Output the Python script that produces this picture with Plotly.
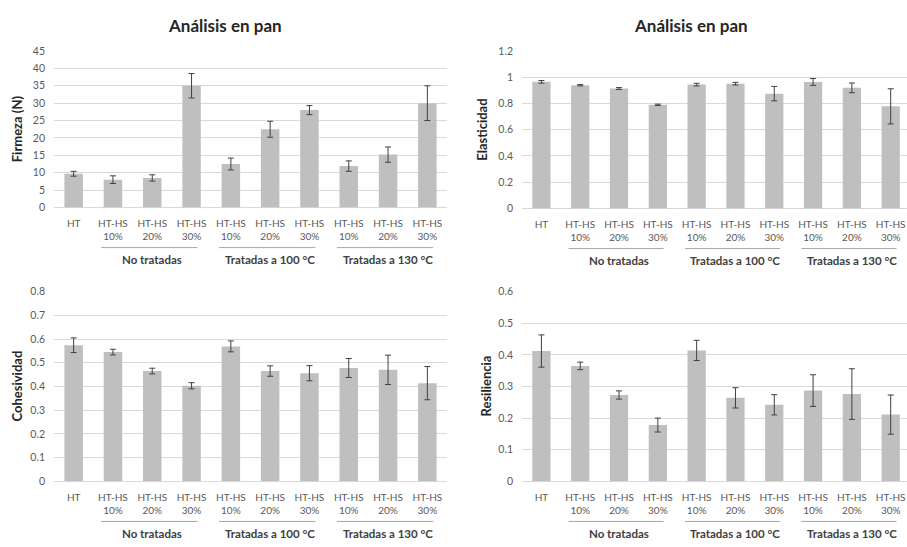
import plotly.graph_objects as go

# ---------------- data ----------------
cat_labels = ["HT", "HT-HS<br>10%", "HT-HS<br>20%", "HT-HS<br>30%",
              "HT-HS<br>10%", "HT-HS<br>20%", "HT-HS<br>30%",
              "HT-HS<br>10%", "HT-HS<br>20%", "HT-HS<br>30%"]
group_names = ["No tratadas", "Tratadas a 100 °C", "Tratadas a 130 °C"]
group_start = [1, 4, 7]
group_end = [3, 6, 9]

firmeza = [9.7, 8.0, 8.5, 35.0, 12.5, 22.5, 28.0, 11.9, 15.2, 30.0]
firmeza_err = [0.7, 1.1, 0.9, 3.5, 1.7, 2.3, 1.3, 1.5, 2.2, 5.0]

elasticidad = [0.965, 0.939, 0.914, 0.79, 0.944, 0.951, 0.875, 0.964, 0.919, 0.778]
elasticidad_err = [0.01, 0.005, 0.007, 0.005, 0.01, 0.01, 0.055, 0.026, 0.037, 0.134]

cohesividad = [0.574, 0.545, 0.465, 0.403, 0.569, 0.465, 0.456, 0.478, 0.47, 0.414]
cohesividad_err = [0.031, 0.012, 0.012, 0.013, 0.023, 0.022, 0.032, 0.04, 0.062, 0.07]

resiliencia = [0.412, 0.365, 0.273, 0.178, 0.414, 0.264, 0.242, 0.287, 0.276, 0.211]
resiliencia_err = [0.051, 0.012, 0.013, 0.022, 0.032, 0.032, 0.032, 0.05, 0.08, 0.062]

titles = ["Análisis en pan", "Análisis en pan", "", ""]
y_titles = ["Firmeza (N)", "Elasticidad", "Cohesividad", "Resiliencia"]
y_max = [45, 1.2, 0.8, 0.6]
y_dtick = [5, 0.2, 0.1, 0.1]

# ---------------- layout geometry (pixels) ----------------
W, H = 907, 547
FONT = "Lato, 'Open Sans', sans-serif"
panels = [
    dict(x0=54, x1=447, ytop=46, ybot=206, xr=[-0.5, 9.5], title_x=225, title_y=20, ytitle_x=17),
    dict(x0=522, x1=907, ytop=46, ybot=207, xr=[-0.5, 9.42], title_x=691, title_y=20, ytitle_x=482),
    dict(x0=54, x1=447, ytop=292, ybot=486, xr=[-0.5, 9.5], title_x=None, title_y=None, ytitle_x=17),
    dict(x0=522, x1=907, ytop=292, ybot=486, xr=[-0.5, 9.42], title_x=None, title_y=None, ytitle_x=486),
]
series = [(firmeza, firmeza_err), (elasticidad, elasticidad_err),
          (cohesividad, cohesividad_err), (resiliencia, resiliencia_err)]

def px_x(p):
    return p / W

def px_y(p):
    return 1 - p / H

fig = go.Figure()
annotations = []
shapes = []
layout = {}

xs = list(range(len(cat_labels)))

for i, (p, (vals, errs)) in enumerate(zip(panels, series)):
    n = "" if i == 0 else str(i + 1)
    xa, ya = "x" + n, "y" + n
    fig.add_trace(go.Bar(
        x=xs, y=vals, xaxis=xa, yaxis=ya,
        marker=dict(color="#bfbfbf", line=dict(width=0)),
        error_y=dict(type="data", array=errs, visible=True,
                     color="#404040", thickness=1, width=3),
        width=0.47, showlegend=False, hoverinfo="skip",
    ))
    layout["xaxis" + n] = dict(
        domain=[px_x(p["x0"]), min(1.0, px_x(p["x1"]))], anchor=ya, range=p["xr"],
        tickvals=xs, ticktext=cat_labels, showgrid=False, zeroline=False,
        showline=False, ticks="", ticklabelstandoff=9,
        tickfont=dict(family=FONT, size=10, color="#595959"),
    )
    layout["yaxis" + n] = dict(
        domain=[px_y(p["ybot"]), px_y(p["ytop"])], anchor=xa,
        range=[0, y_max[i]], dtick=y_dtick[i], showgrid=True,
        gridcolor="#d9d9d9", gridwidth=1, zeroline=True, zerolinecolor="#d9d9d9",
        zerolinewidth=1, showline=False, ticks="", ticklabelstandoff=8,
        tickfont=dict(family=FONT, size=10.5, color="#595959"),
    )
    if titles[i]:
        annotations.append(dict(
            text="<b>" + titles[i] + "</b>", x=px_x(p["title_x"]), y=px_y(p["title_y"]),
            xref="paper", yref="paper", showarrow=False, xanchor="center", yanchor="middle",
            font=dict(family=FONT, size=17, color="#262626"),
        ))
    annotations.append(dict(
        text="<b>" + y_titles[i] + "</b>", x=px_x(p["ytitle_x"]),
        y=px_y((p["ytop"] + p["ybot"]) / 2), xref="paper", yref="paper",
        showarrow=False, textangle=-90, xanchor="center", yanchor="middle",
        font=dict(family=FONT, size=13, color="#262626"),
    ))
    line_y = px_y(p["ybot"] + 41)
    lab_y = px_y(p["ybot"] + 53)
    for g, s, e in zip(group_names, group_start, group_end):
        shapes.append(dict(type="line", xref=xa, yref="paper",
                           x0=s - 0.3, x1=e + 0.15, y0=line_y, y1=line_y,
                           line=dict(color="#a6a6a6", width=1)))
        annotations.append(dict(
            text="<b>" + g + "</b>", x=(s + e) / 2, y=lab_y, xref=xa, yref="paper",
            showarrow=False, xanchor="center", yanchor="middle",
            font=dict(family=FONT, size=11.5, color="#404040"),
        ))

fig.update_layout(
    width=W, height=H, margin=dict(l=0, r=0, t=0, b=0),
    paper_bgcolor="white", plot_bgcolor="white",
    annotations=annotations, shapes=shapes, showlegend=False,
    **layout,
)
fig.write_html(
    "out.html",
    config={"displayModeBar": False},
    post_script="document.body.style.margin='0px';document.body.style.overflow='hidden';",
)
